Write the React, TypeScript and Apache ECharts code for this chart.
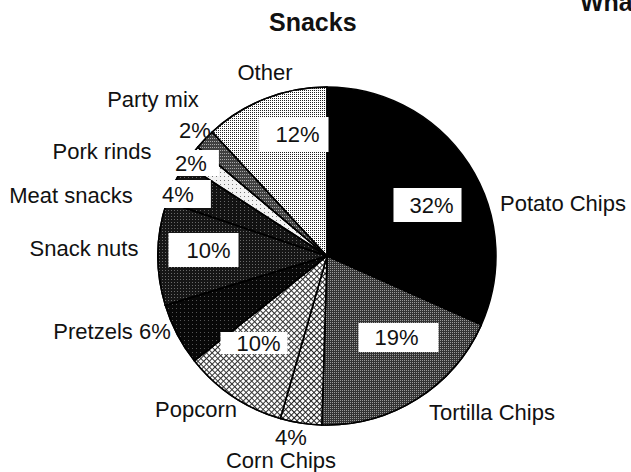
import React, { useEffect, useRef } from "react";
import * as echarts from "echarts";

const TITLE = "Snacks";
const CUT_TITLE = "What";
const categories = [
  "Potato Chips",
  "Tortilla Chips",
  "Corn Chips",
  "Popcorn",
  "Pretzels",
  "Snack nuts",
  "Meat snacks",
  "Pork rinds",
  "Party mix",
  "Other",
];
const shares = [32, 19, 4, 10, 6, 10, 4, 2, 2, 12];

// --- styling (not data) ---
const FONT = "Liberation Sans";
const dots = (bg: string, fg: string, gx: number, gy: number) => ({
  color: bg,
  decal: {
    symbol: "rect",
    symbolSize: 1,
    color: fg,
    dashArrayX: [1, gx],
    dashArrayY: [1, gy],
    rotation: 0,
  },
});
const hatch = (line: string) => ({
  color: line,
  decal: {
    symbol: "rect",
    symbolSize: 1,
    color: "#ffffff",
    dashArrayX: [3, 1],
    dashArrayY: [3, 1],
    rotation: Math.PI / 4,
  },
});
const sliceStyles: any[] = [
  { color: "#000000" },
  dots("#333333", "#9a9a9a", 1, 1),
  hatch("#222222"),
  hatch("#333333"),
  dots("#080808", "#555555", 3, 3),
  dots("#161616", "#6a6a6a", 2, 2),
  dots("#121212", "#666666", 3, 2),
  dots("#f2f2f2", "#777777", 3, 3),
  dots("#404040", "#aaaaaa", 1, 2),
  dots("#ffffff", "#222222", 1, 1),
];
// name label centres
const namePos: [number, number][] = [
  [563, 203],
  [492, 412],
  [281, 460],
  [196, 409],
  [112, 331],
  [84, 248],
  [71, 195],
  [102, 151],
  [153, 99],
  [265, 72],
];
// percent label box centres and paddings [top, right, bottom, left]
const pctPos: [number, number][] = [
  [427.5, 205],
  [398.5, 337.5],
  [291, 437],
  [254, 343],
  [0, 0],
  [203.5, 250],
  [185, 194],
  [195, 163],
  [195, 130],
  [293.5, 134.5],
];
const pctPad: number[][] = [
  [0, 8, 12, 16],
  [2, 20, 5, 16],
  [0, 0, 0, 0],
  [0, 7, 0, 16],
  [0, 0, 0, 0],
  [2, 8, 10, 18],
  [3, 17, 3, 3],
  [2, 12, 2, 4],
  [0, 0, 0, 0],
  [5, 9, 8, 17],
];
const pctBox = [true, true, false, true, false, true, true, true, false, true];

export default function App() {
  const ref = useRef<HTMLDivElement>(null);
  useEffect(() => {
    const chart = echarts.init(ref.current!, null, { renderer: "svg" });
    const baseData = categories.map((name, i) => ({
      name,
      value: shares[i],
      itemStyle: { ...sliceStyles[i] },
      label: {
        formatter: i === 4 ? "{b} {c}%" : "{b}",
      },
    }));
    const pctData = categories.map((name, i) => ({
      name,
      value: shares[i],
      label: {
        show: i !== 4,
        formatter: "{c}%",
        backgroundColor: pctBox[i] ? "#ffffff" : "transparent",
        padding: pctPad[i],
      },
    }));
    const textStyle = {
      fontFamily: FONT,
      fontSize: 22,
      color: "#111",
      lineHeight: 22,
    };
    chart.setOption({
      animation: false,
      backgroundColor: "#ffffff",
      graphic: [
        {
          type: "text",
          left: 316 - 47,
          top: 9,
          style: {
            text: TITLE,
            font: `bold 25px ${FONT}`,
            fill: "#111",
          },
        },
        {
          type: "text",
          left: 580,
          top: -11,
          style: {
            text: CUT_TITLE,
            font: `bold 25px ${FONT}`,
            fill: "#111",
          },
        },
      ],
      series: [
        {
          type: "pie",
          center: [327, 256],
          radius: [0, 169],
          startAngle: 90,
          clockwise: true,
          avoidLabelOverlap: false,
          silent: true,
          itemStyle: { borderColor: "#000", borderWidth: 1.5 },
          label: { show: true, position: "outside", ...textStyle },
          labelLine: { show: false },
          labelLayout: (p: any) => ({
            x: namePos[p.dataIndex][0],
            y: namePos[p.dataIndex][1],
            align: "center",
            verticalAlign: "middle",
          }),
          data: baseData,
        },
        {
          type: "pie",
          center: [327, 256],
          radius: [0, 169],
          startAngle: 90,
          clockwise: true,
          avoidLabelOverlap: false,
          silent: true,
          itemStyle: { color: "transparent", borderWidth: 0 },
          label: { show: true, position: "inside", ...textStyle },
          labelLine: { show: false },
          labelLayout: (p: any) => ({
            x: pctPos[p.dataIndex][0],
            y: pctPos[p.dataIndex][1],
            align: "center",
            verticalAlign: "middle",
          }),
          data: pctData,
        },
      ],
    });
    return () => chart.dispose();
  }, []);
  return (
    <div
      ref={ref}
      style={{ position: "fixed", left: 0, top: 0, width: 631, height: 472 }}
    />
  );
}
